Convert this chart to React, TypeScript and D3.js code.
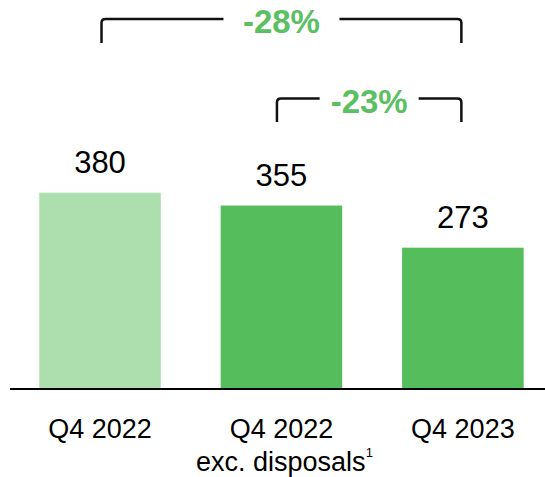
import React from "react";
import * as d3 from "d3";

const categories = ["Q4 2022", "Q4 2022", "Q4 2023"];
const subLabels = ["", "exc. disposals", ""];
const values = [380, 355, 273];
const barColors = ["#ACDFAD", "#55BD5B", "#55BD5B"];
const bracketFrom = [0, 1];
const bracketTo = [2, 2];
const bracketLabels = ["-28%", "-23%"];

const W = 545;
const H = 477;

export default function App() {
  const idx = categories.map((_, i) => i);
  const x = d3
    .scaleBand<number>()
    .domain(idx)
    .range([9.3, 553.6])
    .paddingInner(0.33)
    .paddingOuter(0.165);
  const y = d3.scaleLinear().domain([0, 400]).range([388, 182.4]);
  const cx = (i: number) => (x(i) as number) + x.bandwidth() / 2;

  const font = "'Liberation Sans', Arial, Helvetica, sans-serif";
  const bracketY = [19, 98.5];
  const bracketBottom = [43, 122];
  const bracketGap = [58, 49.5];
  const bracketXAdj = [[1.5, -1.5], [-4.5, -1.5]];
  const r = 4;

  return (
    <svg
      width={W}
      height={H}
      style={{ position: "absolute", left: 0, top: 0 }}
      fontFamily={font}
    >
      {values.map((v, i) => (
        <rect
          key={"b" + i}
          x={x(i)}
          y={y(v)}
          width={x.bandwidth()}
          height={y(0) - y(v)}
          fill={barColors[i]}
        />
      ))}
      <line x1={10} x2={545} y1={389} y2={389} stroke="#000" strokeWidth={2} />
      {values.map((v, i) => (
        <text
          key={"v" + i}
          x={cx(i)}
          y={y(v) - 19.5}
          textAnchor="middle"
          fontSize={31}
          fill="#000"
        >
          {v}
        </text>
      ))}
      {categories.map((c, i) => (
        <text
          key={"c" + i}
          x={cx(i)}
          y={438}
          textAnchor="middle"
          fontSize={27}
          fill="#000"
        >
          {c}
        </text>
      ))}
      {subLabels.map((s, i) =>
        s ? (
          <text
            key={"s" + i}
            x={cx(i) + 3}
            y={471}
            textAnchor="middle"
            fontSize={27}
            fill="#000"
          >
            {s}
            <tspan fontSize={13} dy={-14}>
              1
            </tspan>
          </text>
        ) : null
      )}
      {bracketLabels.map((lab, k) => {
        const x1 = cx(bracketFrom[k]) + bracketXAdj[k][0];
        const x2 = cx(bracketTo[k]) + bracketXAdj[k][1];
        const yy = bracketY[k];
        const yb = bracketBottom[k];
        const mid = (x1 + x2) / 2;
        const g = bracketGap[k];
        const left = `M${x1},${yb} L${x1},${yy + r} Q${x1},${yy} ${x1 + r},${yy} L${mid - g},${yy}`;
        const right = `M${mid + g},${yy} L${x2 - r},${yy} Q${x2},${yy} ${x2},${yy + r} L${x2},${yb}`;
        return (
          <g key={"br" + k}>
            <path d={left} fill="none" stroke="#111" strokeWidth={2.5} />
            <path d={right} fill="none" stroke="#111" strokeWidth={2.5} />
            <text
              x={mid}
              y={yy + 14}
              textAnchor="middle"
              fontSize={33}
              fontWeight="bold"
              fill="#5CC063"
            >
              {lab}
            </text>
          </g>
        );
      })}
    </svg>
  );
}
